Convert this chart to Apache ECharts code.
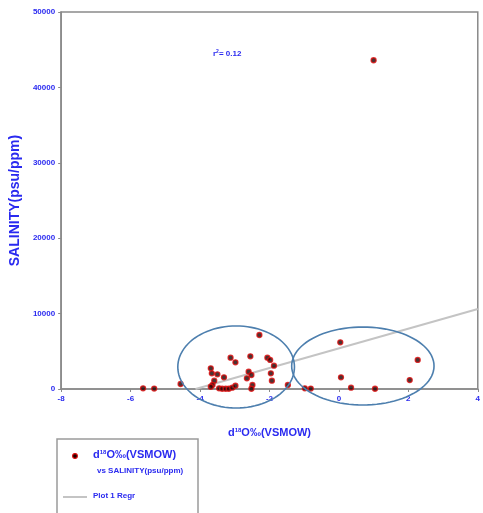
<!DOCTYPE html>
<html>
<head>
<meta charset="utf-8">
<script src="https://cdn.jsdelivr.net/npm/echarts@6/dist/echarts.min.js"></script>
<style>
  html, body { margin: 0; padding: 0; background: #fff; }
  #chart { width: 483px; height: 513px; }
</style>
</head>
<body>
<div id="chart"></div>
<script>
// δ18O (‰ VSMOW) of each sample
var d18O = [
  -5.64, -5.32, -4.56,
  -3.69, -3.66, -3.50, -3.31, -3.59, -3.64, -3.69, -3.45, -3.36, -3.26, -3.17, -3.07, -2.98,
  -3.12, -2.98, -2.55, -2.60, -2.52, -2.65, -2.49, -2.52,
  -2.06, -1.98, -1.87, -1.96, -1.93, -2.29, -1.47,
  -0.98, -0.81,
  0.04, 0.06, 0.35, 1.04, 2.04, 2.27, 1.00
];
// salinity (psu/ppm) of the same samples
var salinity = [
  90, 50, 660,
  2740, 2080, 1950, 1550, 1100, 530, 300, 90, 30, 30, 30, 170, 430,
  4150, 3540, 4330, 2300, 1860, 1420, 530, 30,
  4150, 3850, 3100, 2080, 1100, 7160, 530,
  90, 50,
  6190, 1550, 170, 30, 1190, 3850, 43600
];
// fitted regression line end points
var regrX = [-4.13, 4];
var regrY = [0, 10600];
var rSquared = '0.12';

// sample groups circled on the plot: centre x, centre y, half-width, half-height (data units)
var groupEllipses = [
  [-2.96, 2920, 1.68, 5440],
  [0.69, 3050, 2.05, 5170]
];

var xTicks = { min: -8, max: 4, interval: 2 };
var yTicks = { min: 0, max: 50000, interval: 10000 };

var blue = '#2a2af0';
var axisGrey = '#8a8a8a';

var points = d18O.map(function (x, i) { return [x, salinity[i]]; });
var regrLine = regrX.map(function (x, i) { return [x, regrY[i]]; });

var chart = echarts.init(document.getElementById('chart'));

chart.setOption({
  animation: false,
  backgroundColor: '#fff',
  textStyle: { fontFamily: 'Liberation Sans, Arial, sans-serif' },
  grid: {
    left: 57, right: 5, top: 12, bottom: 124,
    show: true, borderColor: axisGrey, borderWidth: 1.5, backgroundColor: '#fff'
  },
  xAxis: {
    type: 'value',
    min: xTicks.min, max: xTicks.max, interval: xTicks.interval,
    name: 'd{sup|18}O‰(VSMOW)',
    nameLocation: 'middle',
    nameGap: 38,
    nameTextStyle: {
      color: blue, fontSize: 11, fontWeight: 'bold',
      rich: { sup: { fontSize: 6, fontWeight: 'bold', color: blue, verticalAlign: 'top', padding: [0, 0, 6, 0] } }
    },
    axisLine: { show: true, onZero: false, lineStyle: { color: axisGrey, width: 1.5 } },
    axisTick: { show: true, length: 3, lineStyle: { color: axisGrey } },
    axisLabel: { color: blue, fontSize: 8, fontWeight: 'bold', margin: 6 },
    splitLine: { show: false }
  },
  yAxis: {
    type: 'value',
    min: yTicks.min, max: yTicks.max, interval: yTicks.interval,
    name: 'SALINITY(psu/ppm)',
    nameLocation: 'middle',
    nameGap: 30,
    nameTextStyle: { color: blue, fontSize: 14, fontWeight: 'bold' },
    axisLine: { show: true, onZero: false, lineStyle: { color: axisGrey, width: 1.5 } },
    axisTick: { show: true, length: 3, lineStyle: { color: axisGrey } },
    axisLabel: {
      color: blue, fontSize: 8, fontWeight: 'bold', margin: 6,
      formatter: function (v) { return String(v); }
    },
    splitLine: { show: false }
  },
  series: [
    {
      name: 'regression',
      type: 'line',
      data: regrLine,
      symbol: 'none',
      lineStyle: { color: '#c4c4c4', width: 2 },
      z: 2
    },
    {
      name: 'samples',
      type: 'scatter',
      data: points,
      symbol: 'circle',
      symbolSize: 5,
      itemStyle: { color: '#1e0000', borderColor: '#dd0c0c', borderWidth: 1.3 },
      z: 3
    },
    {
      name: 'groups',
      type: 'custom',
      data: groupEllipses,
      clip: false,
      z: 4,
      renderItem: function (params, api) {
        var cx = api.value(0), cy = api.value(1), rx = api.value(2), ry = api.value(3);
        var pts = [];
        for (var k = 0; k <= 96; k++) {
          var t = k / 96 * Math.PI * 2;
          pts.push(api.coord([cx + rx * Math.cos(t), cy + ry * Math.sin(t)]));
        }
        return {
          type: 'polyline',
          shape: { points: pts },
          style: { stroke: '#4d7fae', lineWidth: 1.6, fill: null }
        };
      }
    }
  ],
  graphic: [
    {
      type: 'text', left: 213, top: 49,
      style: {
        text: 'r{sup|2}= ' + rSquared,
        fill: blue, font: 'bold 8px Liberation Sans, Arial, sans-serif',
        rich: { sup: { fontSize: 5, fontWeight: 'bold', fill: blue, verticalAlign: 'top', padding: [0, 0, 4, 0] } }
      }
    },
    // legend box
    {
      type: 'rect', shape: { x: 57, y: 439, width: 141, height: 90 },
      style: { fill: '#fff', stroke: '#9a9a9a', lineWidth: 1.5 }
    },
    {
      type: 'circle', shape: { cx: 75, cy: 456, r: 2.4 },
      style: { fill: '#1e0000', stroke: '#dd0c0c', lineWidth: 1.1 }
    },
    {
      type: 'text', left: 93, top: 449,
      style: {
        text: 'd{sup|18}O‰(VSMOW)',
        fill: blue, font: 'bold 11px Liberation Sans, Arial, sans-serif',
        rich: { sup: { fontSize: 6, fontWeight: 'bold', fill: blue, verticalAlign: 'top', padding: [0, 0, 6, 0] } }
      }
    },
    {
      type: 'text', left: 97, top: 467,
      style: { text: 'vs SALINITY(psu/ppm)', fill: blue, font: 'bold 8px Liberation Sans, Arial, sans-serif' }
    },
    {
      type: 'line', shape: { x1: 63, y1: 497, x2: 87, y2: 497 },
      style: { stroke: '#c4c4c4', lineWidth: 2 }
    },
    {
      type: 'text', left: 93, top: 492,
      style: { text: 'Plot 1 Regr', fill: blue, font: 'bold 8px Liberation Sans, Arial, sans-serif' }
    }
  ]
});
</script>
</body>
</html>
